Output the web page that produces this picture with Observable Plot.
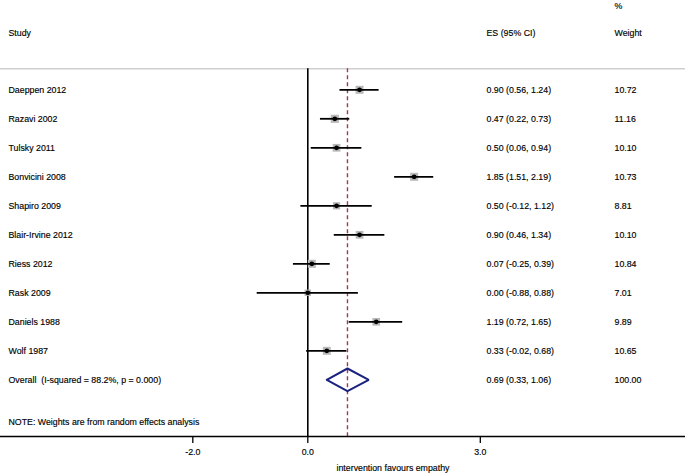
<!DOCTYPE html>
<html>
<head>
<meta charset="utf-8">
<script src="https://cdn.jsdelivr.net/npm/d3@7"></script>
<script src="https://cdn.jsdelivr.net/npm/@observablehq/plot@0.6"></script>
<style>
  html, body { margin: 0; padding: 0; background: #fff; }
  svg { display: block; }
  svg text { white-space: pre; }
</style>
</head>
<body>
<div id="chart"></div>
<script>
// ---- data ----
const studies = ["Daeppen 2012", "Razavi 2002", "Tulsky 2011", "Bonvicini 2008", "Shapiro 2009",
  "Blair-Irvine 2012", "Riess 2012", "Rask 2009", "Daniels 1988", "Wolf 1987"];
const es = [0.90, 0.47, 0.50, 1.85, 0.50, 0.90, 0.07, 0.00, 1.19, 0.33];
const lo = [0.56, 0.22, 0.06, 1.51, -0.12, 0.46, -0.25, -0.88, 0.72, -0.02];
const hi = [1.24, 0.73, 0.94, 2.19, 1.12, 1.34, 0.39, 0.88, 1.65, 0.68];
const weights = [10.72, 11.16, 10.10, 10.73, 8.81, 10.10, 10.84, 7.01, 9.89, 10.65];
const overallLabel = "Overall  (I-squared = 88.2%, p = 0.000)";
const overallES = 0.69, overallLo = 0.33, overallHi = 1.06, overallWeight = 100.00;
const xTicks = [-2, 0, 3];
const xTickLabels = ["-2.0", "0.0", "3.0"];
const xTitle = "intervention favours empathy";
const note = "NOTE: Weights are from random effects analysis";
const headers = {study: "Study", es: "ES (95% CI)", pct: "%", weight: "Weight"};

// ---- layout (pixels) ----
const W = 685, H = 473;
const zeroPx = 307.3, pxPerUnit = 57.5;
const rowTop = 89.3, rowStep = 29;
const xDom = [-zeroPx / pxPerUnit, (W - zeroPx) / pxPerUnit];
const yDom = [-rowTop / rowStep, (H - rowTop) / rowStep];
const xp = p => (p - zeroPx) / pxPerUnit;   // pixel -> x units
const yp = p => (p - rowTop) / rowStep;     // pixel -> row units

const rows = studies.map((s, i) => ({
  study: s, row: i, es: es[i], lo: lo[i], hi: hi[i], weight: weights[i],
  label: `${es[i].toFixed(2)} (${lo[i].toFixed(2)}, ${hi[i].toFixed(2)})`,
  wlabel: weights[i].toFixed(2)
}));
const oRow = studies.length;
const overall = [{study: overallLabel, row: oRow, es: overallES, lo: overallLo, hi: overallHi,
  label: `${overallES.toFixed(2)} (${overallLo.toFixed(2)}, ${overallHi.toFixed(2)})`,
  wlabel: overallWeight.toFixed(2)}];
const dh = 11.3 / rowStep;
const diamond = [
  {x: overallLo, y: oRow}, {x: overallES, y: oRow - dh}, {x: overallHi, y: oRow},
  {x: overallES, y: oRow + dh}, {x: overallLo, y: oRow}
];

const lineTop = yp(68.3), axisY = yp(436), noteY = yp(422);
const textStyle = {fontSize: 8.8, fill: "#000", textAnchor: "start", stroke: "#000", strokeWidth: 0.15};

const chart = Plot.plot({
  width: W, height: H, margin: 0,
  style: {fontFamily: "'Liberation Sans', Arial, Helvetica, sans-serif", background: "#fff"},
  x: {domain: xDom, range: [0, W], axis: null},
  y: {domain: yDom, range: [0, H], axis: null},
  r: {type: "sqrt", domain: [0, 11.16], range: [0, 4.6]},
  marks: [
    // header separator
    Plot.ruleY([lineTop], {stroke: "#cfcfcf", strokeWidth: 1.5}),
    // headers
    Plot.text([headers.study], {x: xp(8), y: yp(32.7), text: d => d, ...textStyle}),
    Plot.text([headers.es], {x: xp(486), y: yp(32.7), text: d => d, ...textStyle}),
    Plot.text([headers.pct], {x: xp(614), y: yp(6), text: d => d, ...textStyle}),
    Plot.text([headers.weight], {x: xp(614), y: yp(32.7), text: d => d, ...textStyle}),
    // null line and overall line
    Plot.ruleX([0], {y1: lineTop, y2: axisY, stroke: "#000", strokeWidth: 1.6}),
    Plot.ruleX([overallES], {y1: lineTop, y2: axisY, stroke: "#a33a4a", strokeWidth: 1.4, strokeDasharray: "4,3"}),
    // study squares, CIs, dots
    Plot.dot(rows, {x: "es", y: "row", r: "weight", symbol: "square", fill: "#b9b9b9", stroke: "none"}),
    Plot.ruleY(rows, {y: "row", x1: "lo", x2: "hi", stroke: "#000", strokeWidth: 1.8}),
    Plot.dot(rows, {x: "es", y: "row", r: 2.4, fill: "#000", stroke: "none"}),
    // overall diamond
    Plot.line(diamond, {x: "x", y: "y", stroke: "#1c237f", strokeWidth: 2, strokeLinejoin: "miter"}),
    // labels
    Plot.text(rows.concat(overall), {x: xp(8), y: "row", text: "study", ...textStyle}),
    Plot.text(rows.concat(overall), {x: xp(486), y: "row", text: "label", ...textStyle}),
    Plot.text(rows.concat(overall), {x: xp(614), y: "row", text: "wlabel", ...textStyle}),
    Plot.text([note], {x: xp(8), y: noteY, text: d => d, ...textStyle}),
    // x axis
    Plot.ruleY([axisY], {stroke: "#000", strokeWidth: 1.3}),
    Plot.ruleX(xTicks, {y1: axisY, y2: axisY + 7 / rowStep, stroke: "#000", strokeWidth: 1.3}),
    Plot.text(xTicks, {x: d => d, y: yp(452), text: (d, i) => xTickLabels[i], ...textStyle, textAnchor: "middle"}),
    Plot.text([xTitle], {x: xp(392.5), y: yp(468), text: d => d, ...textStyle, textAnchor: "middle"})
  ]
});
document.getElementById("chart").appendChild(chart);
</script>
</body>
</html>
